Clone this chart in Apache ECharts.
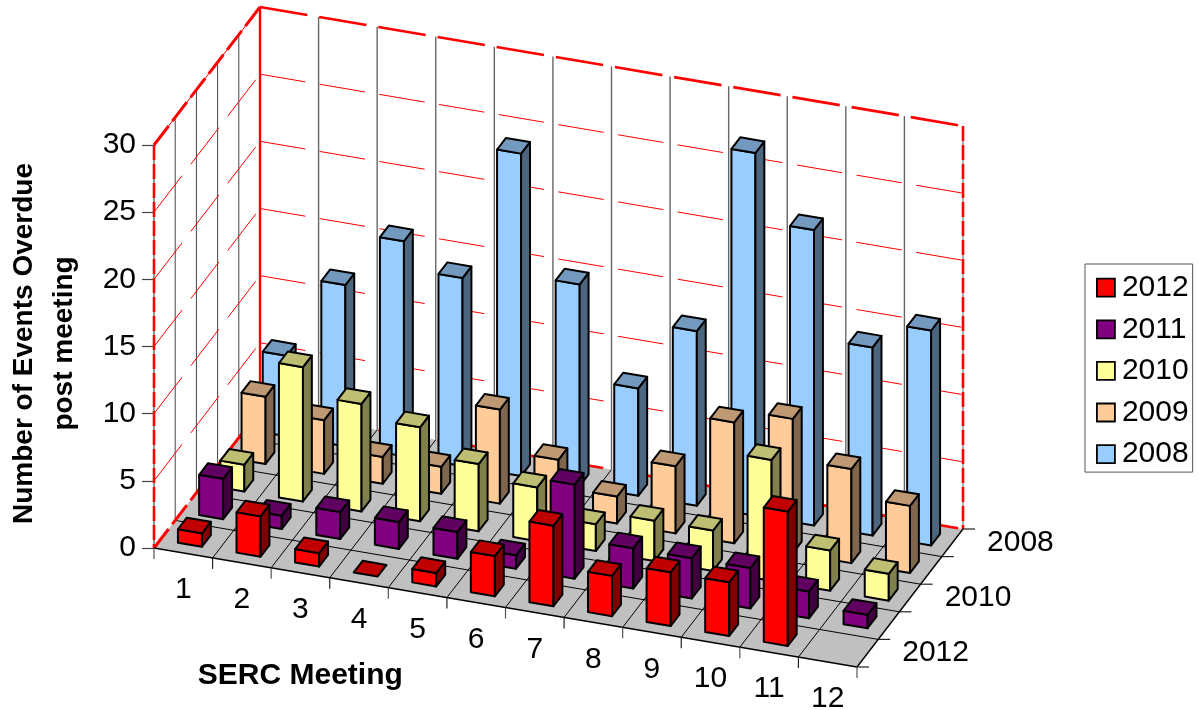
<!DOCTYPE html>
<html>
<head>
<meta charset="utf-8">
<style>html,body{margin:0;padding:0;background:#fff}#chart{width:1199px;height:710px}</style>
<script src="https://cdn.jsdelivr.net/npm/echarts@6/dist/echarts.min.js"></script>
</head>
<body>
<div id="chart"></div>
<script>
// Overdue events after each SERC meeting, one row of columns per year.
const meetings = ['1','2','3','4','5','6','7','8','9','10','11','12'];
const depthTicks = ['2012','2011','2010','2009','2008'];
const valueTicks = [0,5,10,15,20,25,30];
const values2012 = [1,3,1,0,1,3,6,3,4,4,10,null];
const values2011 = [3,1,2,2,2,1,7,3,3,3,2,1];
const values2010 = [2,10,8,7,5,4,2,3,3,9,3,2];
const values2009 = [5,4,2,2,7,4,2,5,9,10,7,5];
const values2008 = [6,12,16,14,24,15,8,13,27,22,14,16];

// Oblique projection: the grid holds the front wall plane, these shear it into depth.
const FONT = '"Liberation Sans", Arial, sans-serif';
const RISE = 119;               // px the front edge falls across all meetings
const DEPTH_X = 106 / 5;        // px per year row, to the right
const DEPTH_Y = 138 / 5;        // px per year row, upwards
const BAR_START = 0.3, BAR_WIDTH = 0.41, BAR_DEPTH = 0.42;

function projector(api) {
  return function (m, d, v) {
    const p = api.coord([m, v]);
    return [p[0] + d * DEPTH_X, p[1] + (m / meetings.length) * RISE - d * DEPTH_Y];
  };
}

function seg(a, b, stroke, lineWidth, lineDash) {
  return {
    type: 'line',
    shape: { x1: a[0], y1: a[1], x2: b[0], y2: b[1] },
    style: { stroke, lineWidth, lineDash: lineDash || null, fill: null }
  };
}
function poly(points, fill, stroke, lineWidth) {
  return {
    type: 'polygon',
    shape: { points },
    style: { fill, stroke: stroke || null, lineWidth: lineWidth || 0, lineJoin: 'round' }
  };
}
function label(text, x, y, size, weight) {
  return {
    type: 'text',
    style: {
      text, x, y, fill: '#000', align: 'center', verticalAlign: 'middle',
      font: (weight || 'normal') + ' ' + size + 'px ' + FONT
    }
  };
}

// Walls, floor, ticks and the oblique axis labels.
function renderFrame(params, api) {
  const P = projector(api);
  const M = meetings.length, D = depthTicks.length, top = valueTicks[valueTicks.length - 1];
  const out = [];
  const red = '#ff0000', dash = [46, 14.5];

  out.push(poly([P(0,0,0), P(0,D,0), P(0,D,top), P(0,0,top)], '#fff'));
  out.push(poly([P(0,D,0), P(M,D,0), P(M,D,top), P(0,D,top)], '#fff'));

  for (let d = 1; d < D; d++) out.push(seg(P(0,d,0), P(0,d,top), '#444', 1));
  for (let m = 1; m < M; m++) out.push(seg(P(m,D,0), P(m,D,top), '#666', 1.4));
  out.push(seg(P(0,0,0), P(0,0,top), '#666', 1.4));
  out.push(seg(P(M,D,0), P(M,D,top), '#888', 1.4));

  valueTicks.slice(1, -1).forEach(function (v) {
    out.push(seg(P(0,0,v), P(0,D,v), red, 1, dash));
    out.push(seg(P(0,D,v), P(M,D,v), red, 1, dash));
  });

  out.push(poly([P(0,0,0), P(M,0,0), P(M,D,0), P(0,D,0)], '#c0c0c0'));
  for (let m = 1; m < M; m++) out.push(seg(P(m,0,0), P(m,D,0), '#000', 1));
  for (let d = 1; d < D; d++) out.push(seg(P(0,d,0), P(M,d,0), '#000', 1));

  // Heavy dashed outline of the walls
  out.push(seg(P(0,0,top), P(0,D,top), red, 1));
  out.push(seg(P(0,0,top), P(0,D,top), red, 3, [24, 6]));
  out.push(seg(P(0,D,top), P(M,D,top), red, 2.6, [48, 12]));
  out.push(seg(P(0,0,0), P(0,D,0), red, 3, [24, 6]));
  out.push(seg(P(0,D,0), P(M,D,0), red, 2.6, [48, 12]));
  out.push(seg(P(0,0,top), P(0,0,0), red, 2.6, [15, 4]));
  out.push(seg(P(M,D,top), P(M,D,0), red, 2.6, [15, 4]));
  out.push(seg(P(0,D,top), P(0,D,0), red, 2.4));

  out.push(seg(P(0,0,0), P(M,0,0), '#000', 1.4));
  out.push(seg(P(M,0,0), P(M,D,0), '#000', 1.4));

  for (let m = 0; m <= M; m++) {
    const a = P(m,0,0);
    out.push(seg(a, [a[0], a[1] + 11], m % 2 ? '#222' : '#555', 1.2));
  }
  for (let d = 0; d <= D; d++) {
    const a = P(M,d,0);
    out.push(seg(a, [a[0] + 12, a[1]], '#222', 1.2));
  }

  meetings.forEach(function (text, i) {
    const a = P(i + 0.5, 0, 0);
    out.push(label(text, a[0], a[1] + 37, 30));
  });
  depthTicks.forEach(function (text, d) {
    if (d % 2) return;
    const a = P(M, d + 0.5, 0);
    out.push(label(text, a[0] + 68, a[1], 30));
  });
  const nameAt = P(3.3, 0, 0);
  out.push(label('SERC Meeting', nameAt[0] - 47, nameAt[1] + 95, 30, 'bold'));

  return { type: 'group', children: out };
}

// One column: front, side and top faces, flat when the value is zero.
function barRenderer(depth, face, side, cap) {
  return function (params, api) {
    const i = api.value(0), v = api.value(1);
    if (v == null || isNaN(v)) return;
    const P = projector(api);
    const m0 = i + BAR_START, m1 = m0 + BAR_WIDTH;
    const d0 = depth + BAR_START, d1 = d0 + BAR_DEPTH;
    const children = [];
    if (v > 0) {
      children.push(poly([P(m0,d0,0), P(m1,d0,0), P(m1,d0,v), P(m0,d0,v)], face, '#000', 2));
      children.push(poly([P(m1,d0,0), P(m1,d1,0), P(m1,d1,v), P(m1,d0,v)], side, '#000', 2));
    }
    children.push(poly([P(m0,d0,v), P(m1,d0,v), P(m1,d1,v), P(m0,d1,v)], cap, '#000', 2));
    return { type: 'group', children };
  };
}

function yearSeries(name, depth, values, face, side, cap) {
  return {
    type: 'custom',
    name,
    coordinateSystem: 'cartesian2d',
    itemStyle: { color: face },
    renderItem: barRenderer(depth, face, side, cap),
    data: values.map(function (v, i) { return [i, v]; }),
    encode: { x: 0, y: 1 },
    silent: true,
    clip: false
  };
}

const chart = echarts.init(document.getElementById('chart'), null, { renderer: 'canvas' });
chart.setOption({
  animation: false,
  backgroundColor: '#fff',
  textStyle: { fontFamily: FONT },
  grid: { left: 154, top: 145, width: 703, height: 403, outerBoundsMode: 'none' },
  xAxis: {
    type: 'value', min: 0, max: meetings.length,
    axisLine: { show: false }, axisTick: { show: false },
    axisLabel: { show: false }, splitLine: { show: false }
  },
  yAxis: {
    type: 'value', min: valueTicks[0], max: valueTicks[valueTicks.length - 1], interval: 5,
    axisLine: { show: false },
    axisTick: { show: true, length: 12, lineStyle: { color: '#444', width: 1.2 } },
    axisLabel: { margin: 18, fontSize: 30, color: '#000', fontFamily: FONT },
    splitLine: { show: false },
    name: 'Number of Events Overdue\npost meeting',
    nameLocation: 'middle',
    nameRotate: 90,
    nameGap: 70,
    nameTextStyle: { fontSize: 28, fontWeight: 'bold', color: '#000', lineHeight: 40, fontFamily: FONT, padding: [0, 0, 0, 6] }
  },
  legend: {
    orient: 'vertical',
    left: 1085, top: 264,
    padding: [8.7, 4, 3, 11],
    icon: 'rect',
    itemWidth: 18, itemHeight: 18, itemGap: 11.6,
    backgroundColor: '#fff',
    borderColor: '#555', borderWidth: 1,
    itemStyle: { borderColor: '#000', borderWidth: 1.8 },
    textStyle: { fontSize: 30, color: '#000', lineHeight: 30, fontFamily: FONT, padding: [0, 0, 0, 2] },
    data: ['2012','2011','2010','2009','2008']
  },
  series: [
    { type: 'custom', name: 'frame', coordinateSystem: 'cartesian2d', renderItem: renderFrame,
      data: [[0, 0]], encode: { x: 0, y: 1 }, silent: true, clip: false },
    yearSeries('2008', 4, values2008, '#99ccff', '#4d6680', '#7399bf'),
    yearSeries('2009', 3, values2009, '#ffcc99', '#80664d', '#bf9973'),
    yearSeries('2010', 2, values2010, '#ffff99', '#80804d', '#bfbf73'),
    yearSeries('2011', 1, values2011, '#800080', '#400040', '#600060'),
    yearSeries('2012', 0, values2012, '#ff0000', '#800000', '#c00000')
  ]
});
</script>
</body>
</html>
